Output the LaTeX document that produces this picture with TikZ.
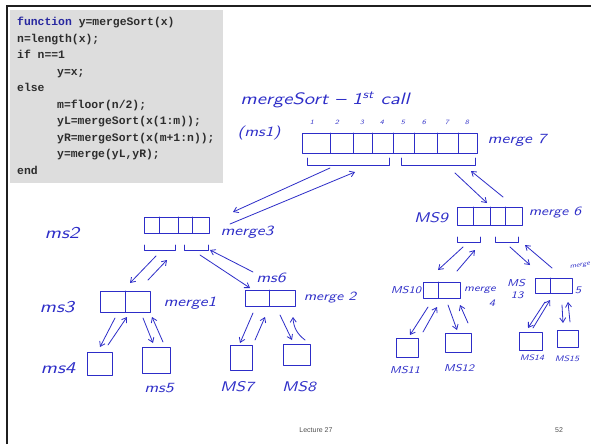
\documentclass[tikz,border=0pt]{standalone}
\usepackage{fontspec}
\newfontfamily\codefont{Liberation Mono}
\newfontfamily\footfont{Liberation Sans}
\newfontfamily\handfont{lmsans10-oblique}[Extension=.otf, FakeStretch=1.25, Ligatures=TeX]
\usetikzlibrary{arrows.meta}
\definecolor{inkblue}{RGB}{45,45,200}
\definecolor{codegray}{RGB}{221,221,221}
\definecolor{kwblue}{RGB}{40,40,160}
\definecolor{codetext}{RGB}{45,45,45}
\definecolor{foottext}{RGB}{80,80,80}

\tikzset{
  pen/.style={draw=inkblue, line width=0.8pt, line cap=round, line join=round},
  inkcell/.style={pen, rectangle, inner sep=0pt, outer sep=0pt},
  handtext/.style={text=inkblue, font=\handfont\fontsize{14}{14}\selectfont, inner sep=0pt},
  bighand/.style={handtext, font=\handfont\fontsize{16.5}{16.5}\selectfont},
  lowhand/.style={handtext, font=\handfont\fontsize{12.5}{12.5}\selectfont},
  midhand/.style={handtext, font=\handfont\fontsize{10}{10}\selectfont},
  tinyhand/.style={handtext, font=\handfont\fontsize{8}{8}\selectfont},
  smallhand/.style={handtext, font=\handfont\fontsize{6.5}{6.5}\selectfont},
  callarrow/.style={pen, -{Straight Barb[length=4.5pt,width=6pt]}},
  codeline/.style={anchor=base west, inner sep=0pt, text=codetext,
    font=\codefont\bfseries\fontsize{11.4}{12}\selectfont},
  footer/.style={inner sep=0pt, text=foottext, font=\footfont\fontsize{7}{7}\selectfont},
}

% box node: name, x1, y1, x2, y2
\newcommand\inkleaf[5]{%
  \node[inkcell, minimum width={(#4-#2)*1pt}, minimum height={(#5-#3)*1pt}]
    (#1) at ({(#2+#4)/2},{(#3+#5)/2}) {};}
% array node with cell dividers at the listed x positions
\newcommand\inkarray[6]{%
  \inkleaf{#1}{#2}{#3}{#4}{#5}%
  \foreach \d in {#6} {\draw[pen] (\d,#3) -- (\d,#5);}}
% bracket under an array: x1, x2, top, bottom
\newcommand\inkbracket[4]{\draw[pen] (#1,#3) -- (#1,#4) -- (#2,#4) -- (#2,#3);}

\begin{document}
\begin{tikzpicture}[x=1pt,y=-1pt]
\useasboundingbox (0,0) rectangle (591,444);
\fill[white] (0,0) rectangle (591,444);

% slide frame
\draw[line width=2.5pt, black!88] (7,444) -- (7,6) -- (591,6);

% code listing
\node[fill=codegray, minimum width=213pt, minimum height=173pt, inner sep=0pt,
      outer sep=0pt, anchor=north west] (code) at (10,10) {};
\node[codeline] (c1)  at (17,25.5)  {\textcolor{kwblue}{function} y=mergeSort(x)};
\node[codeline] (c2)  at (17,42)    {n=length(x);};
\node[codeline] (c3)  at (17,58.5)  {if n==1};
\node[codeline] (c4)  at (57,75)    {y=x;};
\node[codeline] (c5)  at (17,91.5)  {else};
\node[codeline] (c6)  at (57,108)   {m=floor(n/2);};
\node[codeline] (c7)  at (57,124.5) {yL=mergeSort(x(1:m));};
\node[codeline] (c8)  at (57,141)   {yR=mergeSort(x(m+1:n));};
\node[codeline] (c9)  at (57,157.5) {y=merge(yL,yR);};
\node[codeline] (c10) at (17,174)   {end};

% first call
\node[bighand] (title) at (325,100) {mergeSort \textendash\ 1\textsuperscript{st} call};
\node[handtext] (l1) at (259,133) {(ms1)};
\foreach \i/\x in {1/312,2/337,3/362,4/382,5/403,6/424,7/447,8/467}
  \node[smallhand] (n\i) at (\x,122) {\i};
\inkarray{ms1}{302}{133}{477}{153}{330,353,372,393,414,437,458}
\node[handtext] (m7) at (517,140) {merge 7};
\inkbracket{307}{389}{158}{165}
\inkbracket{401}{475}{158}{165}

% left half
\inkarray{ms2}{144}{217}{209}{233}{159,178,192}
\node[bighand] (l2) at (62,233) {ms2};
\node[handtext] (m3) at (247,232) {merge3};
\inkbracket{144}{175}{245}{250}
\inkbracket{184}{208}{245}{250}

\inkarray{ms3}{100}{291}{150}{312}{125}
\node[bighand] (l3) at (57,307) {ms3};
\node[handtext] (m1) at (190,303) {merge1};

\inkarray{ms6}{245}{290}{295}{306}{269}
\node[handtext] (l6) at (271,278) {ms6};
\node[lowhand] (m2) at (330,298) {merge 2};

\inkleaf{ms4}{87}{352}{112}{375}
\node[bighand] (l4) at (58,368) {ms4};
\inkleaf{ms5}{142}{347}{170}{373}
\node[handtext] (l5) at (159,388) {ms5};
\inkleaf{ms7}{230}{345}{252}{370}
\node[handtext] (l7) at (237,387) {MS7};
\inkleaf{ms8}{283}{344}{310}{365}
\node[handtext] (l8) at (299,387) {MS8};

% right half
\inkarray{ms9}{457}{207}{522}{225}{473,490,505}
\node[handtext] (l9) at (431,218) {MS9};
\node[lowhand] (m6) at (555,213) {merge 6};
\inkbracket{457}{480}{237}{242}
\inkbracket{495}{518}{237}{242}

\inkarray{ms10}{423}{282}{460}{298}{438}
\node[midhand] (l10) at (406,290) {MS10};
\node[midhand] (m4a) at (480,290) {merge};
\node[midhand] (m4b) at (492,303) {4};

\inkarray{ms13}{535}{278}{572}{293}{550}
\node[midhand] (l13a) at (516,283) {MS};
\node[midhand] (l13b) at (517,295) {13};
\node[smallhand, rotate=10] (m5a) at (580,266) {merge};
\node[midhand] (m5b) at (578,290) {5};

\inkleaf{ms11}{396}{338}{418}{357}
\node[midhand] (l11) at (405,370) {MS11};
\inkleaf{ms12}{445}{333}{471}{352}
\node[midhand] (l12) at (459,368) {MS12};
\inkleaf{ms14}{519}{332}{542}{350}
\node[tinyhand] (l14) at (532,358) {MS14};
\inkleaf{ms15}{557}{330}{578}{347}
\node[tinyhand] (l15) at (567,359) {MS15};

% call and return arrow ends
\path (330,168) coordinate (a1s) (233,212) coordinate (a1e)
      (230,224) coordinate (a2s) (355,172) coordinate (a2e)
      (455,173) coordinate (a3s) (487,203) coordinate (a3e)
      (503,197) coordinate (a4s) (471,171) coordinate (a4e)
      (156,256) coordinate (b1s) (130,283) coordinate (b1e)
      (148,280) coordinate (b2s) (167,260) coordinate (b2e)
      (200,255) coordinate (b3s) (250,288) coordinate (b3e)
      (253,272) coordinate (b4s) (210,250) coordinate (b4e)
      (115,318) coordinate (c1s) (100,347) coordinate (c1e)
      (108,345) coordinate (c2s) (127,317) coordinate (c2e)
      (143,318) coordinate (c3s) (153,343) coordinate (c3e)
      (163,342) coordinate (c4s) (152,317) coordinate (c4e)
      (253,313) coordinate (d1s) (240,343) coordinate (d1e)
      (255,340) coordinate (d2s) (265,317) coordinate (d2e)
      (280,315) coordinate (d3s) (292,340) coordinate (d3e)
      (305,340) coordinate (d4s) (293,317) coordinate (d4e)
      (463,247) coordinate (e1s) (438,270) coordinate (e1e)
      (457,271) coordinate (e2s) (475,250) coordinate (e2e)
      (510,247) coordinate (e3s) (530,265) coordinate (e3e)
      (552,268) coordinate (e4s) (525,245) coordinate (e4e)
      (428,307) coordinate (f1s) (410,335) coordinate (f1e)
      (423,332) coordinate (f2s) (437,307) coordinate (f2e)
      (448,305) coordinate (f3s) (457,330) coordinate (f3e)
      (468,323) coordinate (f4s) (460,305) coordinate (f4e)
      (545,302) coordinate (g1s) (528,328) coordinate (g1e)
      (533,328) coordinate (g2s) (550,300) coordinate (g2e)
      (562,305) coordinate (g3s) (563,323) coordinate (g3e)
      (570,322) coordinate (g4s) (568,302) coordinate (g4e);

\foreach \a in {a1,a2,a3,a4,b1,b2,b3,b4,c1,c2,c3,c4,d1,d2,d3,
                e1,e2,e3,e4,f1,f2,f3,f4,g1,g2,g3,g4}
  \draw[callarrow] (\a s) -- (\a e);
\draw[callarrow] (d4s) to[bend left=25] (d4e);

% footer
\node[footer] (lec) at (316,430) {Lecture 27};
\node[footer] (page) at (559,430) {52};
\end{tikzpicture}
\end{document}
